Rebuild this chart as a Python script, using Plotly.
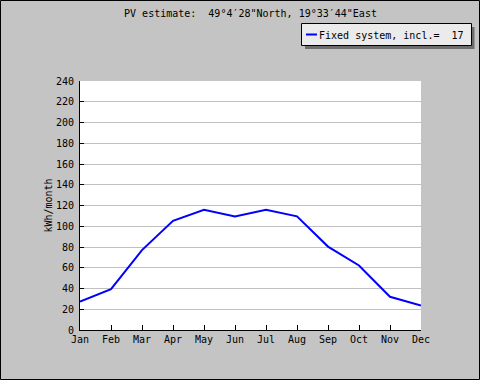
import plotly.graph_objects as go

months = ["Jan", "Feb", "Mar", "Apr", "May", "Jun", "Jul", "Aug", "Sep", "Oct", "Nov", "Dec"]
energy = [27.3, 39.3, 77, 105.3, 115.8, 109.5, 115.8, 109.5, 80.4, 62.2, 32, 23.5]
y_ticks = list(range(0, 241, 20))
series_name = "Fixed system, incl.=\u00a0\u00a017"
title_text = "PV estimate:\u00a0\u00a049°4′28\"North, 19°33′44\"East"
line_color = "#0000ff"

W, H = 480, 380
L, R, T, B = 80, 59, 81, 50
pw, ph = W - L - R, H - T - B

def px(x):
    return (x - L) / pw

def py(y):
    return (H - B - y) / ph

FONT = "DejaVu Sans Mono"

fig = go.Figure()
fig.add_trace(go.Scatter(
    x=list(range(len(months))), y=energy, mode="lines", name=series_name,
    line=dict(color=line_color, width=2), showlegend=False,
))

# legend text (box, shadow and sample line drawn as shapes below)
fig.add_annotation(
    xref="paper", yref="paper", x=px(301.5), y=py(23.5),
    xanchor="left", yanchor="top", showarrow=False,
    text="\u00a0\u00a0" + series_name, align="left", valign="middle",
    width=160, height=12, borderpad=4, borderwidth=1,
    bordercolor="rgba(0,0,0,0)", bgcolor="rgba(0,0,0,0)",
    font=dict(family=FONT, size=10, color="#000000"),
)

fig.update_layout(
    width=W, height=H,
    margin=dict(l=L, r=R, t=T, b=B, pad=0, autoexpand=False),
    paper_bgcolor="#c4c4c4", plot_bgcolor="#ffffff",
    font=dict(family=FONT, size=10, color="#000000"),
    title=dict(text=title_text, x=0.5, xref="paper", xanchor="center",
               y=1 - 13 / H, yref="container", yanchor="middle",
               font=dict(family=FONT, size=10, color="#000000")),
    showlegend=False,
    xaxis=dict(
        range=[0, len(months) - 1], tickmode="array",
        tickvals=list(range(len(months))), ticktext=months,
        showgrid=False, zeroline=False, showline=True, linecolor="#000000", linewidth=1,
        ticks="inside", ticklen=5, tickcolor="#000000", tickwidth=1,
        tickfont=dict(family=FONT, size=10, color="#000000"),
    ),
    yaxis=dict(
        range=[0, 240], tickmode="array", tickvals=y_ticks,
        showgrid=True, gridcolor="#c0c0c0", gridwidth=1,
        zeroline=False, showline=True, linecolor="#000000", linewidth=1,
        ticks="inside", ticklen=4, tickcolor="#000000", tickwidth=1,
        ticklabelstandoff=3,
        tickfont=dict(family=FONT, size=10, color="#000000"),
        title=dict(text="kWh/month", standoff=1,
                   font=dict(family=FONT, size=10, color="#000000")),
    ),
    shapes=[
        dict(type="rect", xref="paper", yref="paper", layer="above",
             x0=px(305), x1=px(474.5), y0=py(27), y1=py(49),
             fillcolor="#6e6e6e", line=dict(width=0)),
        dict(type="rect", xref="paper", yref="paper", layer="above",
             x0=px(301.5), x1=px(471.5), y0=py(23.5), y1=py(45.5),
             fillcolor="#ebebeb", line=dict(color="#000000", width=1)),
        dict(type="line", xref="paper", yref="paper", layer="above",
             x0=px(306), x1=px(317), y0=py(34.5), y1=py(34.5),
             line=dict(color=line_color, width=2)),
        dict(type="rect", xref="paper", yref="paper", layer="above",
             x0=px(0.5), x1=px(479.5), y0=py(0.5), y1=py(379.5),
             fillcolor="rgba(0,0,0,0)", line=dict(color="#000000", width=1)),
    ],
)

fig.write_html("out.html", config={"displayModeBar": False},
               post_script="document.body.style.margin='0';")
